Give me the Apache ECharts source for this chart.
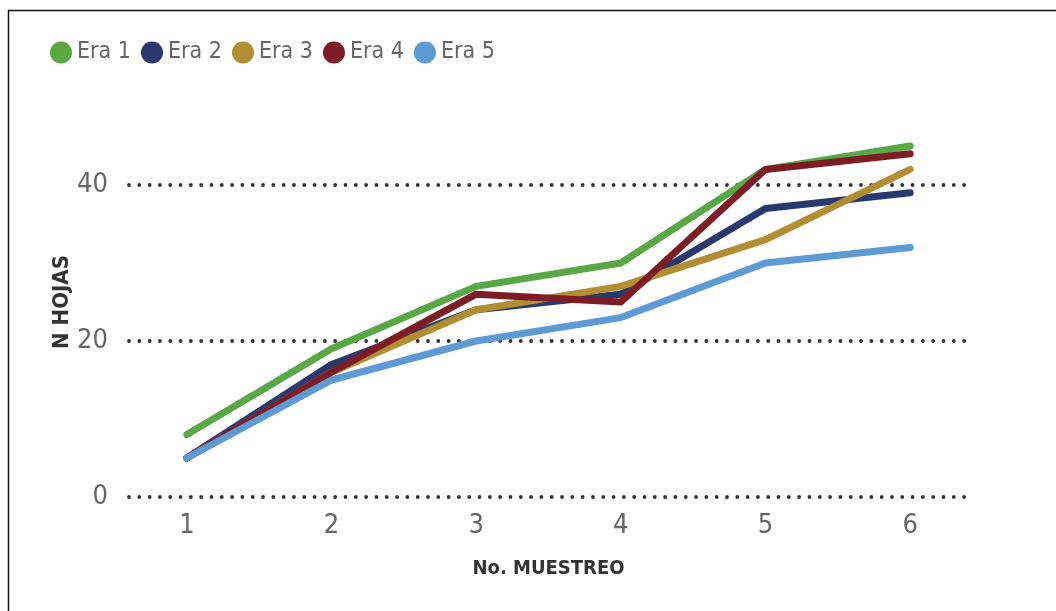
<!DOCTYPE html>
<html>
<head>
<meta charset="utf-8">
<script src="https://cdn.jsdelivr.net/npm/echarts@6/dist/echarts.min.js"></script>
<style>
html,body{margin:0;padding:0;background:#fff;}
#chart{width:1056px;height:611px;}
</style>
</head>
<body>
<div id="chart"></div>
<script>
const categories = [1, 2, 3, 4, 5, 6];
const seriesNames = ['Era 1', 'Era 2', 'Era 3', 'Era 4', 'Era 5'];
const era1 = [8, 19, 27, 30, 42, 45];
const era2 = [5, 17, 24, 26, 37, 39];
const era3 = [5, 16, 24, 27, 33, 42];
const era4 = [5, 16, 26, 25, 42, 44];
const era5 = [5, 15, 20, 23, 30, 32];
const yTicks = [0, 20, 40];
const colors = ['#58A846', '#29386E', '#B08E31', '#7E1C25', '#5E9AD4'];

const values = [era1, era2, era3, era4, era5];
const FONT = '"Liberation Sans Narrow", "DejaVu Sans Condensed", "Liberation Sans", sans-serif';

const chart = echarts.init(document.getElementById('chart'), null, {renderer: 'canvas'});
chart.setOption({
  animation: false,
  backgroundColor: '#ffffff',
  color: colors,
  graphic: [{
    type: 'rect',
    shape: {x: 8.5, y: 10.5, width: 2000, height: 2000},
    style: {fill: 'none', stroke: '#111', lineWidth: 1.5},
    silent: true
  }],
  legend: {
    data: seriesNames,
    left: 45,
    top: 36,
    icon: 'circle',
    itemWidth: 22,
    itemHeight: 22,
    itemGap: 10,
    textStyle: {fontFamily: FONT, fontSize: 23, color: '#666'}
  },
  grid: {left: 129, right: 88, top: 107, bottom: 114},
  xAxis: {
    type: 'value',
    min: 0.6,
    max: 6.4,
    interval: 0.2,
    name: 'No. MUESTREO',
    nameLocation: 'middle',
    nameGap: 62,
    nameMoveOverlap: false,
    nameTextStyle: {fontFamily: FONT, fontSize: 20, fontWeight: 'bold', color: '#333'},
    axisLine: {show: false},
    axisTick: {show: false},
    splitLine: {show: false},
    axisLabel: {
      margin: 15,
      fontFamily: FONT,
      fontSize: 27,
      color: '#666',
      formatter: function (v) {
        const r = Math.round(v);
        return (Math.abs(v - r) < 1e-6 && categories.indexOf(r) >= 0) ? String(r) : '';
      }
    }
  },
  yAxis: {
    type: 'value',
    min: 0,
    max: 50,
    interval: 20,
    name: 'N HOJAS',
    nameLocation: 'middle',
    nameGap: 56,
    nameRotate: 90,
    nameMoveOverlap: false,
    nameTextStyle: {fontFamily: FONT, fontSize: 22, fontWeight: 'bold', color: '#333'},
    axisLine: {show: false},
    axisTick: {show: false},
    axisLabel: {
      margin: 21,
      fontFamily: FONT,
      fontSize: 27,
      color: '#666',
      showMaxLabel: false,
      formatter: function (v) { return yTicks.indexOf(v) >= 0 ? String(v) : ''; }
    },
    splitLine: {
      show: true,
      showMaxLine: false,
      lineStyle: {color: '#333', width: 3.8, type: [0.01, 10.3], cap: 'round'}
    }
  },
  series: seriesNames.map(function (name, i) {
    return {
      name: name,
      type: 'line',
      data: categories.map(function (c, j) { return [c, values[i][j]]; }),
      showSymbol: false,
      symbol: 'none',
      lineStyle: {width: 7, cap: 'round', join: 'round', color: colors[i]},
      itemStyle: {color: colors[i]},
      emphasis: {disabled: true},
      z: 3
    };
  })
});
</script>
</body>
</html>
